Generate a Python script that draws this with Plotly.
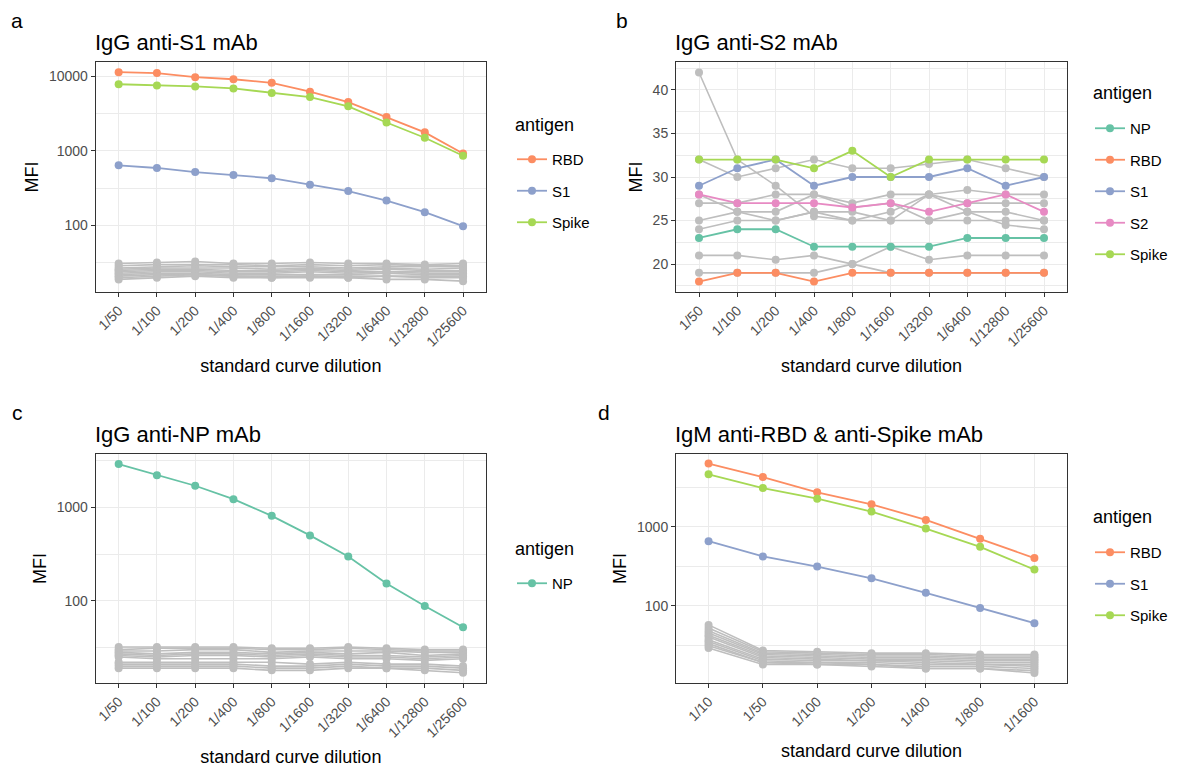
import plotly.graph_objects as go

FONT = "Liberation Sans, Arial, sans-serif"
W, H = 1177, 771

# ---------------- data ----------------
dil10 = ["1/50", "1/100", "1/200", "1/400", "1/800", "1/1600", "1/3200", "1/6400", "1/12800", "1/25600"]
dil7 = ["1/10", "1/50", "1/100", "1/200", "1/400", "1/800", "1/1600"]

colors = {"NP": "#66C2A5", "RBD": "#FC8D62", "S1": "#8DA0CB", "S2": "#E78AC3", "Spike": "#A6D854"}
GREY = "#BEBEBE"

# panel a: IgG anti-S1 mAb
a_RBD = [11300, 11000, 9700, 9100, 8150, 6200, 4500, 2850, 1770, 920]
a_S1 = [640, 590, 520, 475, 430, 353, 290, 216, 151, 98]
a_Spike = [7800, 7500, 7300, 6850, 5950, 5250, 3950, 2400, 1500, 860]
a_grey = [
    [31, 32, 33, 31, 31, 32, 31, 31, 30, 31],
    [29, 30, 30, 30, 29, 30, 29, 30, 29, 29],
    [27, 28, 29, 28, 28, 28, 27, 28, 28, 28],
    [26, 27, 27, 27, 26, 27, 26, 27, 26, 27],
    [25, 26, 26, 25, 25, 26, 25, 26, 25, 25],
    [24, 25, 25, 24, 24, 25, 24, 24, 24, 24],
    [23, 24, 24, 23, 23, 24, 23, 24, 23, 23],
    [22, 23, 23, 22, 22, 22, 22, 23, 22, 22],
    [21, 22, 22, 21, 21, 21, 21, 21, 21, 21],
    [20, 21, 22, 21, 20, 21, 20, 21, 20, 20],
    [19, 20, 21, 20, 20, 20, 20, 19, 19, 18],
]

# panel b: IgG anti-S2 mAb
b_NP = [23, 24, 24, 22, 22, 22, 22, 23, 23, 23]
b_RBD = [18, 19, 19, 18, 19, 19, 19, 19, 19, 19]
b_S1 = [29, 31, 32, 29, 30, 30, 30, 31, 29, 30]
b_S2 = [28, 27, 27, 27, 26.5, 27, 26, 27, 28, 26]
b_Spike = [32, 32, 32, 31, 33, 30, 32, 32, 32, 32]
b_grey = [
    [42, 32, 29, 25.5, 25, 25, 25, 25, 25, 25],
    [32, 30, 31, 32, 31, 31, 31.5, 32, 31, 30],
    [27, 27, 28, 28, 27, 28, 28, 28.5, 28, 28],
    [28, 26, 25, 26, 25, 26, 28, 27, 27, 27],
    [25, 26, 26, 28, 26.5, 27, 25, 26, 26, 25],
    [24, 25, 25, 26, 26, 25, 28, 26, 24.5, 24],
    [21, 21, 20.5, 21, 20, 19, 19, 19, 19, 19],
    [19, 19, 19, 19, 20, 22, 20.5, 21, 21, 21],
]

# panel c: IgG anti-NP mAb
c_NP = [2900, 2200, 1700, 1220, 810, 500, 297, 153, 88, 52]
c_grey = [
    [32, 32, 32, 32, 31, 31, 32, 31, 30, 30],
    [30, 31, 31, 31, 30, 30, 31, 30, 29, 29],
    [29, 29, 30, 30, 28, 29, 29, 29, 28, 28],
    [28, 27, 28, 28, 27, 28, 27, 28, 26, 27],
    [27, 26, 27, 27, 26, 27, 26, 26, 25, 26],
    [26, 25, 26, 26, 25, 26, 25, 25, 24, 25],
    [25, 24, 24, 24, 24, 25, 24, 24, 23, 24],
    [22, 22, 22, 22, 22, 21, 22, 21, 21, 20],
    [21, 21, 21, 21, 20, 20, 21, 20, 20, 19],
    [19, 19, 19, 19, 18, 18, 19, 19, 19, 18],
    [20, 20, 20, 20, 19, 19, 20, 19, 18, 17],
]

# panel d: IgM anti-RBD & anti-Spike mAb
d_RBD = [6300, 4250, 2720, 1920, 1215, 705, 400]
d_S1 = [655, 420, 312, 222, 145, 93, 60]
d_Spike = [4600, 3080, 2260, 1550, 945, 555, 286]
d_grey = [
    [57, 27, 26, 25, 25, 24, 24],
    [52, 26, 25, 24, 24, 23, 23],
    [48, 25, 24, 23, 23, 22, 22],
    [45, 24, 23, 22, 22, 21, 21],
    [42, 23, 22, 21, 21, 20, 20],
    [40, 22, 21, 20, 20, 19, 19],
    [37, 21, 20, 20, 19, 18, 18],
    [35, 20, 19, 19, 18, 18, 17],
    [33, 19, 19, 18, 17, 17, 16],
    [31, 19, 18, 18, 16, 16, 15],
    [29, 18, 18, 17, 16, 16, 14],
]

titles = ["IgG anti-S1 mAb", "IgG anti-S2 mAb", "IgG anti-NP mAb", "IgM anti-RBD & anti-Spike mAb"]
tags = ["a", "b", "c", "d"]
legend_title = "antigen"

# ---------------- layout geometry (pixels) ----------------
box = {
    1: (95.7, 486, 62, 292),
    2: (676, 1067, 62, 292),
    3: (95.7, 486, 454, 683),
    4: (676, 1067, 454, 683),
}


def xd(l, r):
    return [l / W, r / W]


def yd(t, b):
    return [1 - b / H, 1 - t / H]


fig = go.Figure()


def add_series(n, x, groups, greys, legend):
    xa = "x" if n == 1 else f"x{n}"
    ya = "y" if n == 1 else f"y{n}"
    for g in greys:
        fig.add_trace(go.Scatter(
            x=x, y=g, mode="lines+markers", xaxis=xa, yaxis=ya,
            line=dict(color=GREY, width=1.6), marker=dict(color=GREY, size=8),
            showlegend=False, hoverinfo="skip"))
    for name, vals in groups:
        fig.add_trace(go.Scatter(
            x=x, y=vals, mode="lines+markers", xaxis=xa, yaxis=ya, name=name,
            line=dict(color=colors[name], width=1.8), marker=dict(color=colors[name], size=8),
            legend=legend, legendgroup=f"{legend}_{name}"))


add_series(1, dil10, [("RBD", a_RBD), ("S1", a_S1), ("Spike", a_Spike)], a_grey, "legend")
add_series(2, dil10, [("NP", b_NP), ("RBD", b_RBD), ("S1", b_S1), ("S2", b_S2), ("Spike", b_Spike)], b_grey, "legend2")
add_series(3, dil10, [("NP", c_NP)], c_grey, "legend3")
add_series(4, dil7, [("RBD", d_RBD), ("S1", d_S1), ("Spike", d_Spike)], d_grey, "legend4")

tickfont = dict(family=FONT, size=14, color="#4D4D4D")
titlefont = dict(family=FONT, size=18, color="black")
GRID = "#EBEBEB"


def xaxis_cfg(n, cats):
    l, r, t, b = box[n]
    return dict(
        domain=xd(l, r), anchor="y" if n == 1 else f"y{n}",
        type="category", categoryorder="array", categoryarray=cats,
        range=[-0.6, len(cats) - 0.4],
        tickangle=-45, tickfont=tickfont,
        ticks="outside", ticklen=4, tickcolor="#333333", tickwidth=1,
        showgrid=True, gridcolor=GRID, gridwidth=1.1,
        showline=True, mirror=True, linecolor="#333333", linewidth=1,
        zeroline=False,
        title=dict(text="standard curve dilution", font=titlefont, standoff=10),
    )


def yaxis_log_cfg(n, rng):
    l, r, t, b = box[n]
    return dict(
        domain=yd(t, b), anchor="x" if n == 1 else f"x{n}",
        type="log", range=rng,
        tickvals=[100, 1000, 10000], ticktext=["100", "1000", "10000"],
        tickfont=tickfont, ticks="outside", ticklen=4, tickcolor="#333333", tickwidth=1,
        showgrid=True, gridcolor=GRID, gridwidth=1.1,
        minor=dict(tickvals=[10 ** 1.5, 10 ** 2.5, 10 ** 3.5, 10 ** 4.5], showgrid=True,
                   gridcolor=GRID, gridwidth=0.6, ticks=""),
        showline=True, mirror=True, linecolor="#333333", linewidth=1,
        zeroline=False,
        title=dict(text="MFI", font=titlefont, standoff=5),
    )


layout = dict(
    width=W, height=H, margin=dict(l=0, r=0, t=0, b=0),
    paper_bgcolor="white", plot_bgcolor="white",
    font=dict(family=FONT, color="black"),
    xaxis=xaxis_cfg(1, dil10), xaxis2=xaxis_cfg(2, dil10),
    xaxis3=xaxis_cfg(3, dil10), xaxis4=xaxis_cfg(4, dil7),
    yaxis=yaxis_log_cfg(1, [1.11, 4.19]),
    yaxis3=yaxis_log_cfg(3, [1.12, 3.57]),
    yaxis4=yaxis_log_cfg(4, [1.02, 3.92]),
)
l, r, t, b = box[2]
layout["yaxis2"] = dict(
    domain=yd(t, b), anchor="x2", range=[16.8, 43.2],
    tickvals=[20, 25, 30, 35, 40], tickfont=tickfont,
    ticks="outside", ticklen=4, tickcolor="#333333", tickwidth=1,
    showgrid=True, gridcolor=GRID, gridwidth=1.1,
    minor=dict(tickvals=[17.5, 22.5, 27.5, 32.5, 37.5, 42.5], showgrid=True,
               gridcolor=GRID, gridwidth=0.6, ticks=""),
    showline=True, mirror=True, linecolor="#333333", linewidth=1, zeroline=False,
    title=dict(text="MFI", font=titlefont, standoff=5),
)


def legend_cfg(px, py):
    return dict(
        x=px / W, y=1 - py / H, xanchor="left", yanchor="top",
        xref="paper", yref="paper",
        font=dict(family=FONT, size=15, color="black"),
        traceorder="grouped", tracegroupgap=9, itemwidth=30,
        bgcolor="rgba(0,0,0,0)",
    )


# (legend left x, legend top y, title y) in pixels
legpos = {"legend": (512, 143, 125), "legend2": (1090, 112, 93),
          "legend3": (512, 567, 549), "legend4": (1090, 536, 517)}
annotations = []
for key, (px, py, ty) in legpos.items():
    layout[key] = legend_cfg(px, py)
    annotations.append(dict(
        text=legend_title, x=(px + 1) / W, y=1 - ty / H, xref="paper", yref="paper",
        xanchor="left", yanchor="middle", showarrow=False,
        font=dict(family=FONT, size=18, color="black")))

for i, n in enumerate([1, 2, 3, 4]):
    l, r, t, b = box[n]
    annotations.append(dict(
        text=titles[i], x=(l - 3) / W, y=1 - (t - 20) / H, xref="paper", yref="paper",
        xanchor="left", yanchor="middle", showarrow=False,
        font=dict(family=FONT, size=22, color="black")))
tagpos = [(17, 20), (622, 20), (17, 412), (604, 412)]
for i, (px, py) in enumerate(tagpos):
    annotations.append(dict(
        text=tags[i], x=px / W, y=1 - py / H, xref="paper", yref="paper",
        xanchor="center", yanchor="middle", showarrow=False,
        font=dict(family=FONT, size=21, color="black")))
layout["annotations"] = annotations

fig.update_layout(**layout)
fig.write_html("out.html", config={"displayModeBar": False},
               post_script="document.body.style.margin='0px';document.body.style.overflow='hidden';")
